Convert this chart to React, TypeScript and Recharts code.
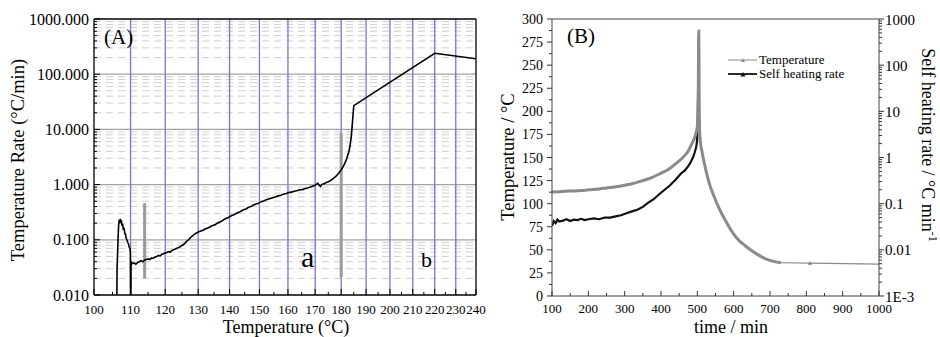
import React from 'react';
import { LineChart, Line, XAxis, YAxis, ReferenceLine } from 'recharts';

const FONT = '"Liberation Serif", "Times New Roman", serif';
const K = 273.15;
const toU = (t: number) => -1000 / (t + K);
const fromU = (u: number) => -1000 / u - K;

// ---------- Panel A data (temperature °C vs rate °C/min) ----------
const aTemp = [
  106.2, 106.25, 106.4, 106.55, 106.7, 106.85, 107.0, 107.15, 107.3, 107.45, 107.6, 107.8, 108.0, 108.2, 108.4, 108.6,
  108.8, 109.0, 109.2, 109.4, 109.6, 109.8, 109.95, 110.0, 110.1, 110.15, 110.5, 111, 111.5, 112, 112.5, 113, 113.5,
  114, 114.5, 115, 115.5, 116, 116.5, 117, 117.5, 118, 118.5, 119, 119.5, 120, 120.5, 121, 121.5, 122, 122.5, 123,
  123.5, 124, 124.5, 125, 125.5, 126, 126.5, 127, 127.5, 128, 128.5, 129, 129.5, 130, 131, 131.5, 132, 133, 133.5,
  134, 135, 135.5, 136, 137, 137.5, 138, 139, 139.5, 140, 141, 141.5, 142, 143, 143.5, 144, 145, 145.5, 146, 147,
  147.5, 148, 149, 149.5, 150, 151, 151.5, 152, 153, 153.5, 154, 155, 155.5, 156, 157, 157.5, 158, 159, 159.5, 160,
  161, 161.5, 162, 163, 163.5, 164, 165, 165.5, 166, 167, 167.5, 168, 169, 169.5, 170, 170.5, 171, 171.5, 172, 172.5,
  173, 173.5, 174, 175, 176, 177, 178, 179, 180, 181, 182, 183, 183.5, 184, 184.5, 185, 220, 240,
];
const aRate = [
  0.0101, 0.03, 0.06, 0.12, 0.19, 0.23, 0.2, 0.24, 0.2, 0.225, 0.18, 0.195, 0.15, 0.165, 0.13, 0.125,
  0.105, 0.1, 0.09, 0.085, 0.075, 0.07, 0.06, 0.0101, 0.0101, 0.04, 0.037, 0.038, 0.036, 0.039, 0.04, 0.042, 0.04,
  0.043, 0.044, 0.045, 0.044, 0.047, 0.046, 0.049, 0.05, 0.052, 0.051, 0.055, 0.056, 0.058, 0.059, 0.061, 0.06, 0.064, 0.066, 0.068,
  0.07, 0.073, 0.075, 0.079, 0.082, 0.088, 0.095, 0.1, 0.108, 0.116, 0.122, 0.128, 0.133, 0.138, 0.146, 0.148, 0.155, 0.164, 0.168,
  0.176, 0.186, 0.19, 0.2, 0.212, 0.218, 0.23, 0.246, 0.25, 0.262, 0.28, 0.285, 0.297, 0.315, 0.322, 0.336, 0.356, 0.362, 0.38, 0.4,
  0.41, 0.428, 0.45, 0.455, 0.472, 0.5, 0.505, 0.522, 0.546, 0.552, 0.566, 0.59, 0.598, 0.612, 0.636, 0.642, 0.66, 0.682, 0.69, 0.71,
  0.73, 0.735, 0.752, 0.772, 0.78, 0.8, 0.812, 0.82, 0.842, 0.87, 0.875, 0.9, 0.93, 0.95, 0.98, 1.02, 1.06, 0.97, 0.92, 1.0,
  1.03, 1.04, 1.08, 1.12, 1.2, 1.3, 1.42, 1.6, 1.85, 2.2, 2.8, 3.9, 5, 7.5, 14, 27, 240, 190,
];
const aXTickTemps = [100, 105, 110, 115, 120, 125, 130, 135, 140, 145, 150, 155, 160, 165, 170, 175, 180, 185, 190, 195, 200, 205, 210, 215, 220, 225, 230, 235, 240];
const aBlueTemps = [110, 120, 130, 140, 150, 160, 170, 180, 190, 200, 210, 220, 230];
const aDecades = [0.01, 0.1, 1, 10, 100, 1000];
const aMajorGrid = [0.1, 1, 10, 100];
const aBars = [
  { t: 114, lo: 0.02, hi: 0.46 },
  { t: 180, lo: 0.021, hi: 8.6 },
];

// ---------- Panel B data ----------
const bTempTime = [100, 120, 150, 180, 200, 230, 250, 280, 300, 320, 350, 370, 400, 420, 440, 460, 475, 485, 492, 497, 500, 502, 503, 503.5, 504, 504.5, 505, 506, 508, 512, 518, 525, 533, 540, 550, 560, 570, 580, 590, 600, 615, 630, 650, 670, 690, 710, 730];
const bTempVal = [112.5, 113, 113.6, 114.2, 115, 116, 117, 118.5, 120, 121.5, 125, 127.5, 133, 137, 143, 150, 157, 165, 171, 177, 184, 200, 240, 275, 287, 260, 220, 185, 168, 158, 146, 134, 122, 114, 104, 95, 87, 80, 73, 67, 60, 55, 49, 44, 40, 37.5, 36];
const bTailTime = [730, 810, 1000];
const bTailVal = [36, 35.5, 34.5];
const bRateTime = [100, 105, 110, 115, 120, 130, 140, 150, 160, 170, 180, 190, 200, 215, 230, 245, 260, 275, 290, 305, 320, 335, 350, 365, 380, 395, 410, 425, 440, 455, 465, 475, 482, 488, 493, 497, 499, 500.5, 501.5, 502.5, 503, 503.5, 504];
const bRateVal = [0.033, 0.042, 0.038, 0.045, 0.041, 0.043, 0.046, 0.042, 0.045, 0.044, 0.047, 0.044, 0.046, 0.048, 0.046, 0.05, 0.05, 0.053, 0.056, 0.062, 0.068, 0.074, 0.085, 0.105, 0.125, 0.16, 0.2, 0.25, 0.33, 0.45, 0.52, 0.65, 0.8, 1.0, 1.3, 1.7, 2.2, 4, 12, 40, 120, 260, 400];
const bXTicks = [100, 150, 200, 250, 300, 350, 400, 450, 500, 550, 600, 650, 700, 750, 800, 850, 900, 950, 1000];
const bYLTicks = [0, 12.5, 25, 37.5, 50, 62.5, 75, 87.5, 100, 112.5, 125, 137.5, 150, 162.5, 175, 187.5, 200, 212.5, 225, 237.5, 250, 262.5, 275, 287.5, 300];
const bYRDecades = [0.001, 0.01, 0.1, 1, 10, 100, 1000];
const bYRLabels = ['1E-3', '0.01', '0.1', '1', '10', '100', '1000'];

// helpers for log ticks (positions only)
const logTicks = (decades: number[]) => {
  const out: number[] = [];
  decades.forEach((d, i) => {
    if (i === decades.length - 1) { out.push(d); return; }
    for (let m = 1; m <= 9; m++) out.push(+(d * m).toPrecision(6));
  });
  return out;
};
const isDecade = (v: number) => Math.abs(Math.log10(v) - Math.round(Math.log10(v))) < 1e-6;

const aData = aTemp.map((t, i) => ({ u: toU(t), r: aRate[i] }));
const aYTicks = logTicks(aDecades);
const aMinorGrid = aYTicks.filter((v) => !isDecade(v));
const bTempData = bTempTime.map((t, i) => ({ t, v: bTempVal[i] }));
const bTailData = bTailTime.map((t, i) => ({ t, v: bTailVal[i] }));
const bRateData = bRateTime.map((t, i) => ({ t, v: bRateVal[i] }));
const bYRTicks = logTicks(bYRDecades);

// ---------- tick renderers ----------
const AXTick = (p: any) => {
  const t = Math.round(fromU(p.payload.value));
  const major = t % 10 === 0;
  return (
    <g>
      <line x1={p.x} x2={p.x} y1={p.y} y2={p.y - (major ? 6 : 3)} stroke="#000" />
      {major && (
        <text x={p.x} y={p.y + 19} textAnchor="middle" fontSize={13} style={{ fontFamily: FONT }} fill="#000">
          {t}
        </text>
      )}
    </g>
  );
};
const AYTick = (p: any) => {
  const v = p.payload.value;
  const major = isDecade(v);
  return (
    <g>
      <line x1={p.x} x2={p.x + (major ? 6 : 3)} y1={p.y} y2={p.y} stroke="#000" />
      {major && (
        <text x={p.x - 5} y={p.y + 5.5} textAnchor="end" fontSize={16} style={{ fontFamily: FONT }} fill="#000">
          {v.toFixed(3)}
        </text>
      )}
    </g>
  );
};
const BXTick = (p: any) => {
  const v = p.payload.value;
  const major = v % 100 === 0;
  return (
    <g>
      <line x1={p.x} x2={p.x} y1={p.y} y2={p.y - (major ? 5 : 3)} stroke="#333" />
      {major && (
        <text x={p.x} y={p.y + 17} textAnchor="middle" fontSize={13} style={{ fontFamily: FONT }} fill="#000">
          {v}
        </text>
      )}
    </g>
  );
};
const BYLTick = (p: any) => {
  const v = p.payload.value;
  const major = v % 25 === 0;
  return (
    <g>
      <line x1={p.x} x2={p.x - (major ? 5 : 3)} y1={p.y} y2={p.y} stroke="#333" />
      {major && (
        <text x={p.x - 9} y={p.y + 5} textAnchor="end" fontSize={14} style={{ fontFamily: FONT }} fill="#000">
          {v}
        </text>
      )}
    </g>
  );
};
const BYRTick = (p: any) => {
  const v = p.payload.value;
  const major = isDecade(v);
  const idx = bYRDecades.findIndex((d) => Math.abs(Math.log10(d) - Math.log10(v)) < 1e-6);
  return (
    <g>
      <line x1={p.x} x2={p.x + (major ? 5 : 3)} y1={p.y} y2={p.y} stroke="#333" />
      {major && idx >= 0 && (
        <text x={p.x + 6} y={p.y + 5.5} textAnchor="start" fontSize={15} style={{ fontFamily: FONT }} fill="#000">
          {bYRLabels[idx]}
        </text>
      )}
    </g>
  );
};

const TailDot = (p: any) => {
  if (p.payload && p.payload.t === 810) {
    return <path d={`M${p.cx - 2},${p.cy + 1.5} L${p.cx + 2},${p.cy + 1.5} L${p.cx},${p.cy - 2} Z`} fill="#777" />;
  }
  return <g />;
};

export default function App() {
  const uMin = toU(100);
  const uMax = toU(240);
  return (
    <div style={{ position: 'absolute', left: 0, top: 0, width: 940, height: 337, background: '#fff' }}>
      <div style={{ position: 'absolute', left: 0, top: 0 }}>
        <LineChart width={492} height={337} data={aData} margin={{ top: 19, right: 16, bottom: 12, left: 0 }}>
          <XAxis
            dataKey="u"
            type="number"
            domain={[uMin, uMax]}
            ticks={aXTickTemps.map(toU)}
            interval={0}
            tickSize={0}
            tickMargin={0}
            tickLine={false}
            tick={AXTick}
            height={30}
            allowDataOverflow
            axisLine={{ stroke: '#000', strokeWidth: 1.3 }}
          />
          <YAxis
            type="number"
            scale="log"
            domain={[0.01, 1000]}
            ticks={aYTicks}
            interval={0}
            tickSize={0}
            tickMargin={0}
            tickLine={false}
            tick={AYTick}
            width={94}
            allowDataOverflow
            axisLine={{ stroke: '#000', strokeWidth: 1.3 }}
          />
          {aMinorGrid.map((v) => (
            <ReferenceLine key={'m' + v} y={v} stroke="#cfcfcf" strokeDasharray="7 5" ifOverflow="visible" />
          ))}
          {aMajorGrid.map((v) => (
            <ReferenceLine key={'M' + v} y={v} stroke="#a3a3a3" strokeWidth={1.2} ifOverflow="visible" />
          ))}
          {aBlueTemps.map((t) => (
            <ReferenceLine key={'b' + t} x={toU(t)} stroke="#7676cf" strokeWidth={1.3} ifOverflow="visible" />
          ))}
          {aBars.map((b) => (
            <ReferenceLine
              key={'bar' + b.t}
              segment={[{ x: toU(b.t), y: b.lo }, { x: toU(b.t), y: b.hi }]}
              stroke="#9a9a9a"
              strokeWidth={3}
              ifOverflow="visible"
            />
          ))}
          <Line dataKey="r" stroke="#000" strokeWidth={1.6} dot={false} isAnimationActive={false} type="linear" />
          <ReferenceLine y={1000} stroke="#000" strokeWidth={1.3} ifOverflow="visible" />
          <ReferenceLine x={uMax} stroke="#000" strokeWidth={1.3} ifOverflow="visible" />
        </LineChart>
      </div>
      <div style={{ position: 'absolute', left: 480, top: 0 }}>
        <LineChart width={460} height={337} margin={{ top: 19, right: 0, bottom: 11, left: 0 }}>
          <XAxis
            dataKey="t"
            type="number"
            domain={[100, 1000]}
            ticks={bXTicks}
            interval={0}
            tickSize={0}
            tickMargin={0}
            tickLine={false}
            tick={BXTick}
            height={30}
            allowDataOverflow
            axisLine={{ stroke: '#444' }}
          />
          <YAxis
            yAxisId="L"
            type="number"
            domain={[0, 300]}
            ticks={bYLTicks}
            interval={0}
            tickSize={0}
            tickMargin={0}
            tickLine={false}
            tick={BYLTick}
            width={72}
            allowDataOverflow
            axisLine={{ stroke: '#444' }}
          />
          <YAxis
            yAxisId="R"
            orientation="right"
            type="number"
            scale="log"
            domain={[0.001, 1000]}
            ticks={bYRTicks}
            interval={0}
            tickSize={0}
            tickMargin={0}
            tickLine={false}
            tick={BYRTick}
            width={61}
            allowDataOverflow
            axisLine={{ stroke: '#444' }}
          />
          <ReferenceLine yAxisId="L" y={300} stroke="#444" ifOverflow="visible" />
          <Line yAxisId="R" data={bRateData} dataKey="v" stroke="#111" strokeWidth={2.2} dot={false} isAnimationActive={false} type="linear" />
          <Line yAxisId="L" data={bTempData} dataKey="v" stroke="#8a8a8a" strokeWidth={3} dot={false} isAnimationActive={false} type="monotone" />
          <Line yAxisId="L" data={bTailData} dataKey="v" stroke="#8a8a8a" strokeWidth={1.2} dot={TailDot} isAnimationActive={false} type="linear" />
        </LineChart>
      </div>
      <svg width={940} height={337} style={{ position: 'absolute', left: 0, top: 0, pointerEvents: 'none' }}>
        <g style={{ fontFamily: FONT }} fill="#000">
          <text transform="translate(24,160) rotate(-90)" textAnchor="middle" fontSize={18.5}>Temperature Rate (°C/min)</text>
          <text x={286} y={333} textAnchor="middle" fontSize={18}>Temperature (°C)</text>
          <text x={104} y={44} fontSize={21}>(A)</text>
          <text x={301} y={267} fontSize={30}>a</text>
          <text x={421} y={267} fontSize={22}>b</text>
          <text x={567} y={43} fontSize={21}>(B)</text>
          <text transform="translate(514,157) rotate(-90)" textAnchor="middle" fontSize={18.5}>Temperature / °C</text>
          <text x={731} y={333} textAnchor="middle" fontSize={18}>time / min</text>
          <text transform="translate(922,145) rotate(90)" textAnchor="middle" fontSize={18}>
            Self heating rate / °C min<tspan dy={-7} fontSize={12}>-1</tspan>
          </text>
          <line x1={728} x2={757} y1={60} y2={60} stroke="#888" strokeWidth={1} />
          <path d="M741,62 L745,62 L743,58.5 Z" fill="#888" />
          <text x={759} y={64} fontSize={13}>Temperature</text>
          <line x1={728} x2={757} y1={74} y2={74} stroke="#111" strokeWidth={1.8} />
          <path d="M740.5,76.5 L745.5,76.5 L743,72 Z" fill="#111" />
          <text x={759} y={78} fontSize={13}>Self heating rate</text>
        </g>
      </svg>
    </div>
  );
}
